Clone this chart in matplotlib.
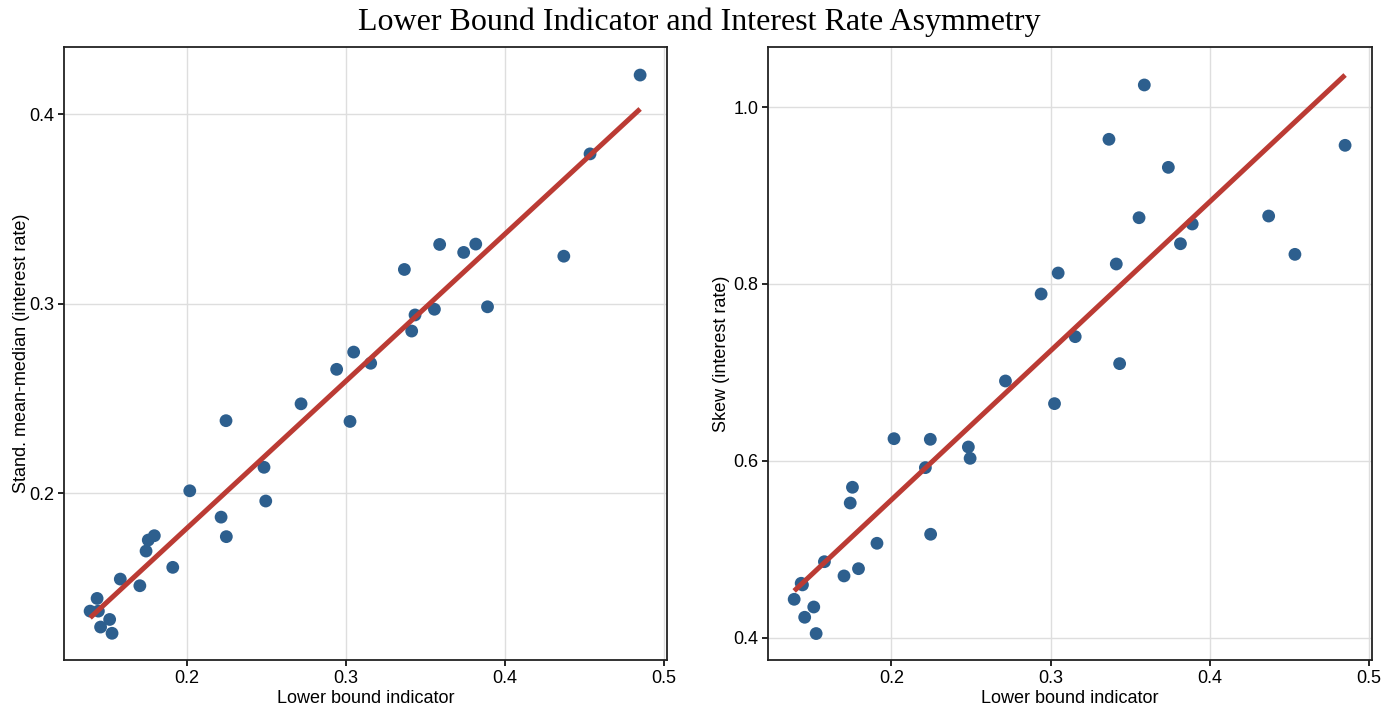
import numpy as np
import matplotlib
matplotlib.use("Agg")
import matplotlib.pyplot as plt

# Data
lower_bound = [0.485, 0.4535, 0.437, 0.389, 0.3816, 0.374, 0.3589, 0.3556, 0.3434, 0.3413,
               0.3367, 0.3155, 0.3048, 0.3025, 0.2941, 0.2717, 0.2495, 0.2484, 0.2247, 0.2245,
               0.2214, 0.2017, 0.191, 0.1794, 0.1756, 0.1742, 0.1703, 0.158, 0.1528, 0.1513,
               0.1456, 0.1442, 0.1434, 0.139]
mean_median = [0.4206, 0.379, 0.325, 0.2983, 0.3314, 0.327, 0.3312, 0.297, 0.294, 0.2855,
               0.318, 0.2685, 0.2744, 0.2378, 0.2653, 0.2471, 0.1958, 0.2136, 0.177, 0.2382,
               0.1873, 0.2012, 0.1608, 0.1775, 0.1752, 0.1694, 0.1511, 0.1546, 0.126, 0.1333,
               0.1293, 0.1377, 0.1444, 0.1377]
skew = [0.9567, 0.8335, 0.8768, 0.8678, 0.8455, 0.9318, 1.0249, 0.8749, 0.71, 0.8226,
        0.9635, 0.7405, 0.8124, 0.6648, 0.7887, 0.6904, 0.603, 0.6158, 0.5172, 0.6245,
        0.5925, 0.6252, 0.507, 0.4783, 0.5703, 0.5525, 0.4701, 0.4862, 0.405, 0.435,
        0.4234, 0.4600, 0.4618, 0.4437]

title = "Lower Bound Indicator and Interest Rate Asymmetry"
xlabel = "Lower bound indicator"
ylabels = ["Stand. mean-median (interest rate)", "Skew (interest rate)"]

POINT = "#2d5f8e"
LINE = "#bb3b34"

plt.rcParams['font.family'] = ['Liberation Sans', 'DejaVu Sans']

fig = plt.figure(figsize=(13.98, 7.09), dpi=100)
ax1 = fig.add_axes([0.0458, 0.0691, 0.4313, 0.8646])
ax2 = fig.add_axes([0.5494, 0.0691, 0.4320, 0.8646])

x = np.array(lower_bound)
panels = [
    (ax1, np.array(mean_median), ylabels[0], (0.1119, 0.4354), [0.2, 0.3, 0.4], -0.5),
    (ax2, np.array(skew), ylabels[1], (0.3751, 1.0678), [0.4, 0.6, 0.8, 1.0], 2),
]
for ax, y, yl, ylim, yt, lp in panels:
    ax.grid(True, color="#dedede", linewidth=1.0)
    ax.set_axisbelow(True)
    ax.scatter(x, y, s=85, color=POINT, edgecolors='none', zorder=3)
    b, a = np.polyfit(x, y, 1)
    xs = np.array([x.min(), x.max()])
    ax.plot(xs, a + b * xs, color=LINE, linewidth=3.6, zorder=4, solid_capstyle='butt')
    ax.set_xlim(0.1226, 0.5019)
    ax.set_ylim(*ylim)
    ax.set_xticks([0.2, 0.3, 0.4, 0.5])
    ax.set_xticklabels(["0.2", "0.3", "0.4", "0.5"])
    ax.set_yticks(yt)
    ax.set_yticklabels([f"{v:.1f}" for v in yt])
    ax.tick_params(axis='both', direction='out', length=4, width=1.2, color='black',
                   labelsize=13, labelcolor='black', pad=3)
    for sp in ax.spines.values():
        sp.set_color('#222222')
        sp.set_linewidth(1.3)
    ax.set_xlabel(xlabel, fontsize=13, labelpad=2)
    ax.set_ylabel(yl, fontsize=13, labelpad=lp)

fig.suptitle(title, fontsize=23, family=['Liberation Serif', 'DejaVu Serif'], y=0.99, va='top')

fig.savefig("out.png", dpi=100)
